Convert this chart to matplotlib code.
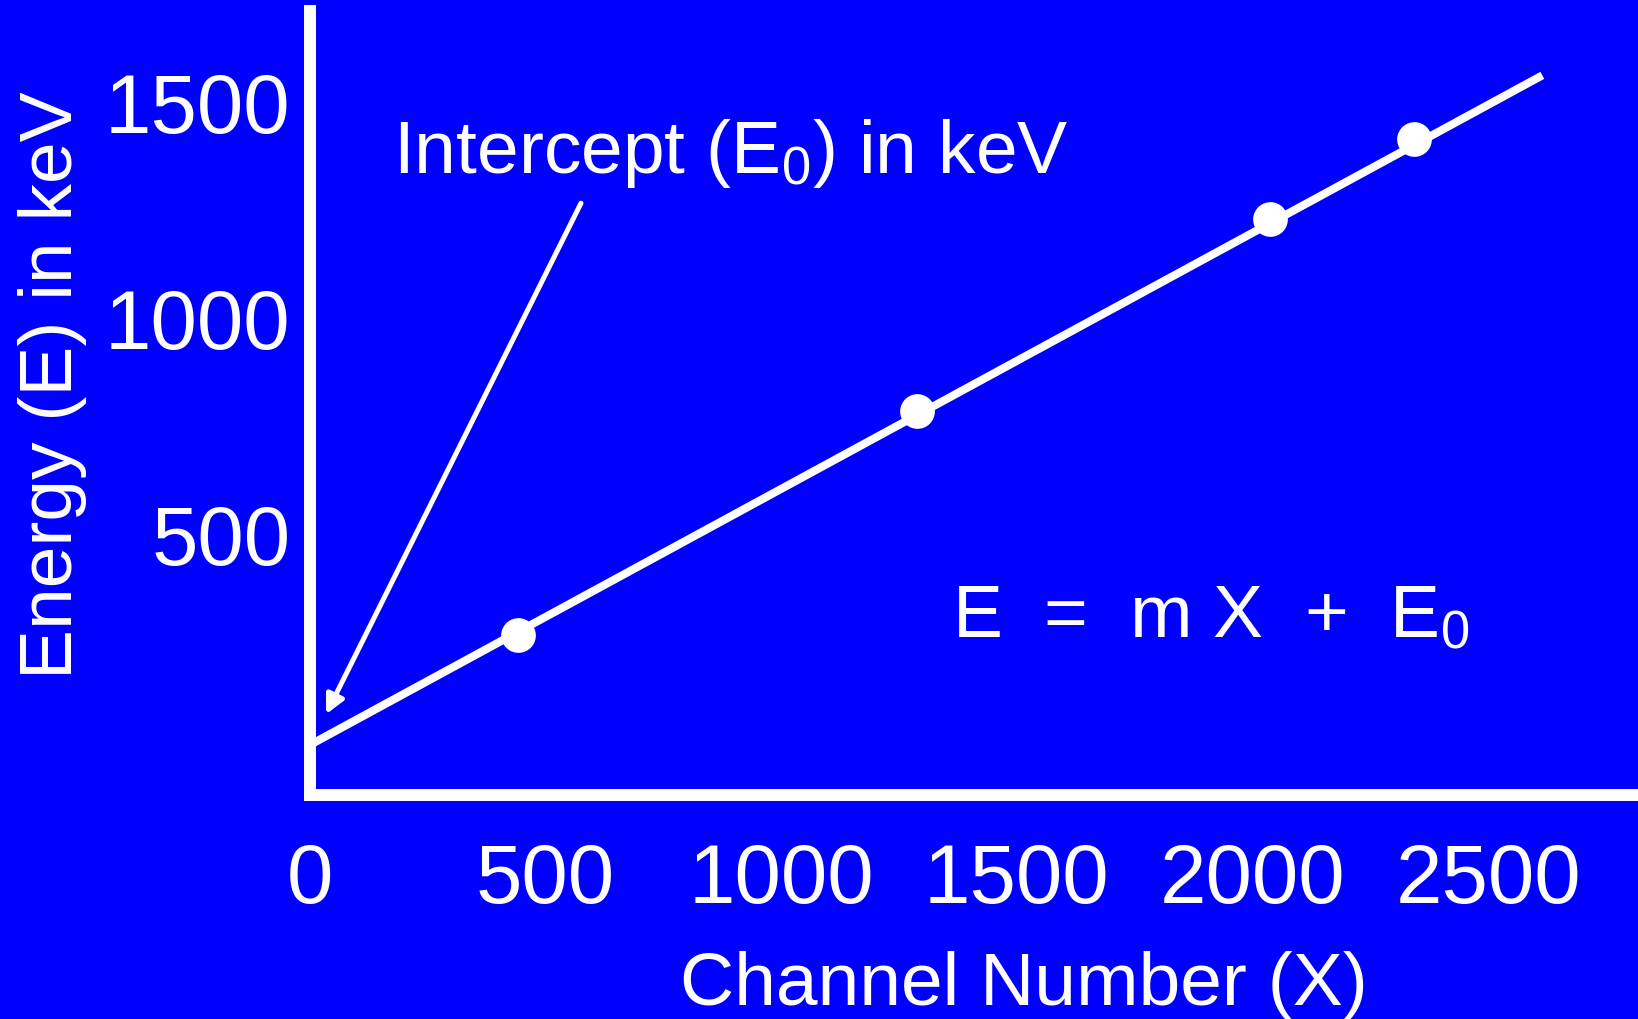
"""Energy calibration plot: channel number vs energy, with fitted line."""

import matplotlib

matplotlib.use("Agg")
import matplotlib.pyplot as plt

plt.rcParams["font.family"] = ["Liberation Sans", "DejaVu Sans"]

BG = "#0000ff"
FG = "white"

# Calibration points (channel, keV).
channels = [441, 1288, 2037, 2343]
energies = [266, 785, 1229, 1414]

# Fitted line E = m X + E0, drawn between two end points.
fit_x = [0, 2615]
fit_e = [12, 1562]

x_ticks = [0, 500, 1000, 1500, 2000, 2500]
y_ticks = [500, 1000, 1500]

W, H = 1638, 1019
fig = plt.figure(figsize=(W / 100, H / 100), dpi=100, facecolor=BG)
ax = fig.add_axes([310 / W, 1 - 795 / H, 1 - 310 / W, (795 - 11) / H])
ax.set_facecolor(BG)

ax.plot(fit_x, fit_e, color=FG, lw=5.8, solid_capstyle="butt", clip_on=False)
ax.plot(channels, energies, "o", color=FG, ms=25, mew=0, clip_on=False)

ax.set_xlim(0, 2818)
ax.set_ylim(-104, 1711)
ax.set_xticks(x_ticks)
ax.set_yticks(y_ticks)
ax.tick_params(length=0, labelsize=60, colors=FG)
ax.tick_params(axis="x", pad=34)
ax.tick_params(axis="y", pad=14)

for side in ("top", "right"):
    ax.spines[side].set_visible(False)
for side in ("left", "bottom"):
    ax.spines[side].set_color(FG)
    ax.spines[side].set_linewidth(8.6)

# Arrow pointing at the intercept.
ax.annotate(
    "",
    xy=(34, 83),
    xytext=(575, 1266),
    arrowprops=dict(
        arrowstyle="-|>", color=FG, lw=3.6, mutation_scale=28,
        shrinkA=0, shrinkB=0,
    ),
    annotation_clip=False,
)
ax.text(176, 1336, r"Intercept (E$\mathregular{_0}$) in keV",
        color=FG, fontsize=54, ha="left", va="baseline")
ax.text(1362, 262, r"E  =  m X  +  E$\mathregular{_0}$",
        color=FG, fontsize=54, ha="left", va="baseline")

fig.text(1024 / W, 1 - 1005 / H, "Channel Number (X)", color=FG,
         fontsize=54, ha="center", va="baseline")
fig.text(53 / W, 1 - 385 / H, "Energy (E) in keV", color=FG,
         fontsize=54, rotation=90, ha="center", va="center")

fig.savefig("out.png", dpi=100, facecolor=BG)
